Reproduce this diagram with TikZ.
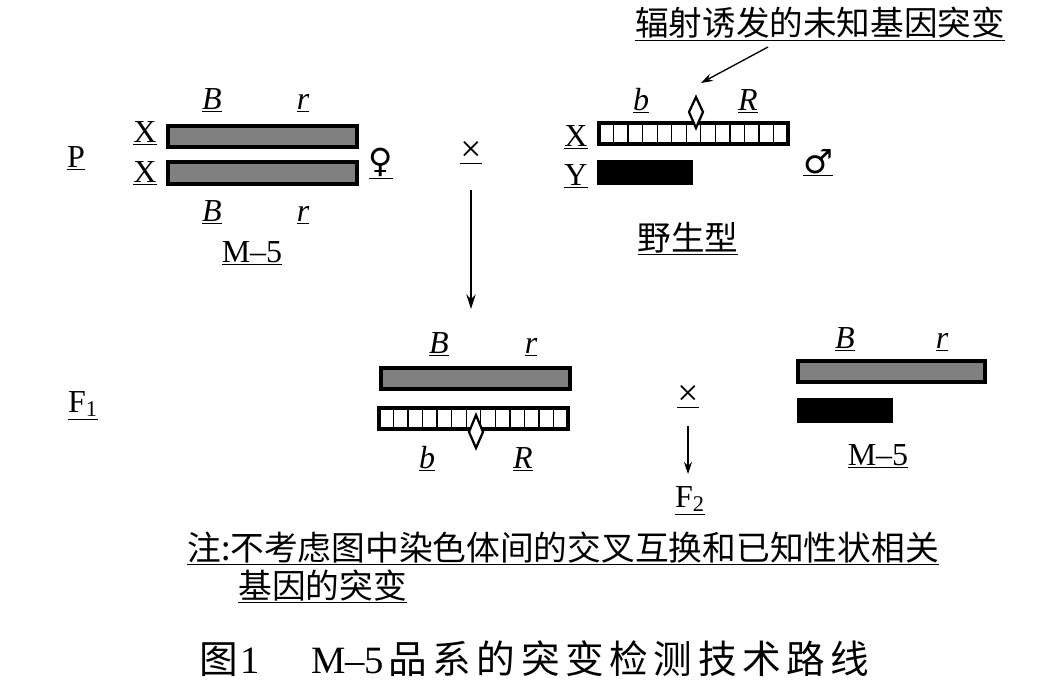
\documentclass[tikz,border=0pt]{standalone}
\usepackage{fontspec}
\setmainfont{Liberation Serif}
\newfontfamily\cjk{Noto Sans CJK SC}
\newfontfamily\symf{DejaVu Sans}
\newfontfamily\latf{Liberation Serif}
\usetikzlibrary{arrows.meta}
\begin{document}
\begin{tikzpicture}[x=0.75pt,y=-0.75pt,
  lat/.style={font=\fontsize{24}{28}\selectfont, inner sep=0pt, anchor=base},
  gene/.style={font=\fontsize{24}{28}\selectfont\itshape, inner sep=0pt, anchor=base},
  crs/.style={font=\fontsize{28}{30}\selectfont, inner sep=0pt, anchor=base},
  zh/.style={font=\cjk\fontsize{25.2}{28}\selectfont, inner sep=0pt, anchor=base},
  sex/.style={font=\symf\fontsize{25}{28}\selectfont, inner sep=0pt, anchor=base},
  figcap/.style={font=\cjk\fontsize{29}{32}\selectfont, inner sep=0pt, anchor=base west},
  graychr/.style={draw=black, line width=2.4pt, fill=black!50},
  hatchchr/.style={draw=black, line width=2.4pt, fill=white},
  cell/.style={draw=black, line width=1pt},
  ychr/.style={fill=black},
  diam/.style={draw=black, line width=1.7pt, fill=white, line join=miter},
  arr/.style={draw=black, line width=1pt, -{Stealth[length=11pt,width=7pt]}},
  arrs/.style={draw=black, line width=1pt, -{Stealth[length=9pt,width=6pt]}}
]
\useasboundingbox (0,0) rectangle (1045,685);

% ---------- P generation, female M-5 ----------
\node[lat] (P) at (76,167) {\underline{P}};
\node[lat] (X1) at (145,142) {\underline{X}};
\node[lat] (X2) at (145,182) {\underline{X}};
\draw[graychr] (168,126) rectangle (357,147);
\draw[graychr] (168,162) rectangle (357,184);
\node[gene] (B1) at (212,109) {\underline{B}};
\node[gene] (r1) at (303,109) {\underline{r}};
\node[gene] (B2) at (212,221) {\underline{B}};
\node[gene] (r2) at (303,221) {\underline{r}};
\node[sex] (fem) at (381,172) {\underline{♀}};
\node[lat] (m5a) at (252,262) {\underline{M–5}};

% cross
\node[crs] (cross1) at (471,161) {\underline{×}};
\coordinate (arrA1) at (471,190);
\coordinate (arrA2) at (471,309);
\draw[arr] (arrA1) -- (arrA2);

% ---------- wild-type male ----------
\node[zh] (mutlab) at (820,36) {\underline{辐射诱发的未知基因突变}};
\node[lat] (X3) at (576,146) {\underline{X}};
\node[lat] (Y1) at (576,185) {\underline{Y}};
\draw[hatchchr] (599,123) rectangle (788,144);
\foreach \i in {1,...,12} \draw[cell] (599+\i*14.54,123) -- (599+\i*14.54,144);
\draw[diam] (696,97) -- (703,112) -- (696,128) -- (689,112) -- cycle;
\coordinate (diamTop) at (701,83);
\coordinate (mutFrom) at (768,47);
\draw[arrs] (mutFrom) -- (diamTop);
\node[gene] (b1) at (641,110) {\underline{b}};
\node[gene] (R1) at (748,110) {\underline{R}};
\fill[ychr] (597,160) rectangle (693,185);
\node[sex] (male) at (818,173) {\underline{♂}};
\node[zh] (wild) at (688,250) {\underline{野生型}};

% ---------- F1 ----------
\node[lat] (F1) at (83,412) {\underline{F\textsubscript{1}}};
\node[gene] (B3) at (439,353) {\underline{B}};
\node[gene] (r3) at (531,353) {\underline{r}};
\draw[graychr] (381,368) rectangle (570,389);
\draw[hatchchr] (379,408) rectangle (568,429);
\foreach \i in {1,...,12} \draw[cell] (379+\i*14.54,408) -- (379+\i*14.54,429);
\draw[diam] (476,415) -- (483,432) -- (476,448) -- (469,432) -- cycle;
\node[gene] (b2) at (427,468) {\underline{b}};
\node[gene] (R2) at (523,468) {\underline{R}};

% cross to F2
\node[crs] (cross2) at (688,405) {\underline{×}};
\coordinate (arrB1) at (688,426);
\coordinate (arrB2) at (688,474);
\draw[arrs] (arrB1) -- (arrB2);
\node[lat] (F2) at (690,507) {\underline{F\textsubscript{2}}};

% male M-5
\node[gene] (B4) at (845,348) {\underline{B}};
\node[gene] (r4) at (942,348) {\underline{r}};
\draw[graychr] (798,361) rectangle (985,382);
\fill[ychr] (797,398) rectangle (893,423);
\node[lat] (m5b) at (878,465) {\underline{M–5}};

% ---------- note and caption ----------
\node[zh, anchor=base west, font=\cjk\fontsize{25.3}{28}\selectfont] (note1) at (187,560) {\underline{注:不考虑图中染色体间的交叉互换和已知性状相关}};
\node[zh, anchor=base west, font=\cjk\fontsize{25.3}{28}\selectfont] (note2) at (238,598) {\underline{基因的突变}};
\node[figcap] (fig) at (199,673) {图\hspace{2pt}{\latf 1}};
\node[figcap] (figt) at (311,673) {{\latf M–5}\hspace{3pt}品\hspace{4.2pt}系\hspace{4.2pt}的\hspace{4.2pt}突\hspace{4.2pt}变\hspace{4.2pt}检\hspace{4.2pt}测\hspace{4.2pt}技\hspace{4.2pt}术\hspace{4.2pt}路\hspace{4.2pt}线};
\end{tikzpicture}
\end{document}
